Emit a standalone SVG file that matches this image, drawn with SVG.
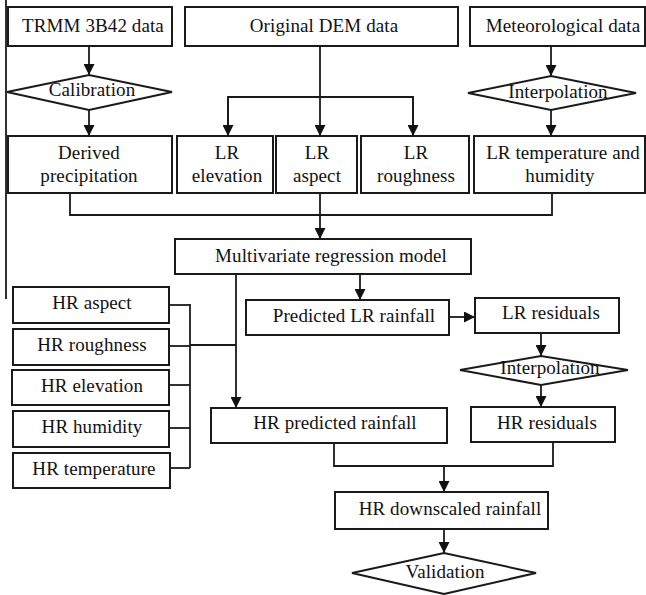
<svg xmlns="http://www.w3.org/2000/svg" width="646" height="595" viewBox="0 0 646 595">
<defs>
<marker id="ah" markerUnits="userSpaceOnUse" markerWidth="11" markerHeight="11" refX="11" refY="5.5" orient="auto">
<path d="M0,0 L11,5.5 L0,11 z" fill="#111"/>
</marker>
<style>
.b{fill:#fff;stroke:#1a1a1a;stroke-width:2}
.d{fill:#fff;stroke:#1a1a1a;stroke-width:2}
.c{fill:none;stroke:#1a1a1a;stroke-width:1.8}
.a{fill:none;stroke:#1a1a1a;stroke-width:1.8;marker-end:url(#ah)}
text{font-family:"Liberation Serif","Times New Roman",serif;font-size:19px;letter-spacing:0.1px;fill:#111;text-anchor:middle}
</style>
</defs>
<rect width="646" height="595" fill="#fff"/>
<line x1="6" y1="0" x2="6" y2="299" class="c"/>
<g id="connectors">
<line x1="89" y1="46" x2="89" y2="75" class="a"/>
<line x1="89" y1="110" x2="89" y2="136" class="a"/>
<line x1="320" y1="46" x2="320" y2="136" class="a"/>
<polyline points="228,136 228,97 413,97 413,136" class="c"/>
<line x1="228" y1="97" x2="228" y2="136" class="a"/>
<line x1="413" y1="97" x2="413" y2="136" class="a"/>
<line x1="551" y1="46" x2="551" y2="76" class="a"/>
<line x1="551" y1="110" x2="551" y2="136" class="a"/>
<polyline points="70,193 70,215 552,215 552,193" class="c"/>
<line x1="320" y1="193" x2="320" y2="239" class="a"/>
<line x1="360" y1="274" x2="360" y2="300" class="a"/>
<line x1="449" y1="317" x2="475" y2="317" class="a"/>
<line x1="541" y1="333" x2="541" y2="356" class="a"/>
<line x1="541" y1="385" x2="541" y2="407" class="a"/>
<line x1="236" y1="274" x2="236" y2="408" class="a"/>
<line x1="190" y1="345" x2="236" y2="345" class="c"/>
<line x1="190" y1="304" x2="190" y2="468" class="c"/>
<line x1="169" y1="305" x2="190" y2="305" class="c"/>
<line x1="169" y1="346" x2="190" y2="346" class="c"/>
<line x1="169" y1="385" x2="190" y2="385" class="c"/>
<line x1="169" y1="428" x2="190" y2="428" class="c"/>
<line x1="170" y1="468" x2="190" y2="468" class="c"/>
<polyline points="334,443 334,466 553,466 553,442" class="c"/>
<line x1="444" y1="466" x2="444" y2="492" class="a"/>
<line x1="444" y1="529" x2="444" y2="553" class="a"/>
</g>
<g id="trmm"><rect x="8" y="7" width="164" height="39" class="b"/><text x="93" y="32">TRMM 3B42 data</text></g>
<g id="dem"><rect x="185" y="7" width="273" height="39" class="b"/><text x="324" y="32">Original DEM data</text></g>
<g id="meteo"><rect x="470" y="7" width="175" height="39" class="b"/><text x="563" y="32">Meteorological data</text></g>
<g id="calibration"><polygon points="7,92 89,75 172,92 89,110" class="d"/><text x="92" y="96">Calibration</text></g>
<g id="interp1"><polygon points="468,93 551,76 636,93 551,110" class="d"/><text x="558" y="98">Interpolation</text></g>
<g id="derived"><rect x="8" y="136" width="164" height="57" class="b"/><text x="89" y="159">Derived</text><text x="89" y="182">precipitation</text></g>
<g id="lrelev"><rect x="177" y="136" width="96" height="57" class="b"/><text x="227" y="159">LR</text><text x="227" y="182">elevation</text></g>
<g id="lraspect"><rect x="276" y="136" width="81" height="57" class="b"/><text x="317" y="159">LR</text><text x="317" y="182">aspect</text></g>
<g id="lrrough"><rect x="361" y="136" width="108" height="57" class="b"/><text x="416" y="159">LR</text><text x="416" y="182">roughness</text></g>
<g id="lrtemp"><rect x="474" y="136" width="171" height="57" class="b"/><text x="563" y="159">LR temperature and</text><text x="560" y="182">humidity</text></g>
<g id="mvr"><rect x="175" y="239" width="296" height="35" class="b"/><text x="331" y="262">Multivariate regression model</text></g>
<g id="predlr"><rect x="246" y="300" width="203" height="35" class="b"/><text x="354" y="322">Predicted LR rainfall</text></g>
<g id="lrres"><rect x="475" y="298" width="144" height="35" class="b"/><text x="551" y="319">LR residuals</text></g>
<g id="interp2"><polygon points="460,370 541,356 628,370 541,385" class="d"/><text x="550" y="374">Interpolation</text></g>
<g id="hraspect"><rect x="13" y="287" width="156" height="36" class="b"/><text x="92" y="309">HR aspect</text></g>
<g id="hrrough"><rect x="13" y="329" width="156" height="36" class="b"/><text x="92" y="351">HR roughness</text></g>
<g id="hrelev"><rect x="12" y="370" width="157" height="35" class="b"/><text x="92" y="392">HR elevation</text></g>
<g id="hrhum"><rect x="13" y="411" width="156" height="36" class="b"/><text x="92" y="433">HR humidity</text></g>
<g id="hrtemp"><rect x="13" y="453" width="157" height="35" class="b"/><text x="94" y="475">HR temperature</text></g>
<g id="hrpred"><rect x="211" y="408" width="236" height="35" class="b"/><text x="335" y="429">HR predicted rainfall</text></g>
<g id="hrres"><rect x="471" y="407" width="144" height="35" class="b"/><text x="547" y="429">HR residuals</text></g>
<g id="hrdown"><rect x="335" y="492" width="213" height="37" class="b"/><text x="450" y="515">HR downscaled rainfall</text></g>
<g id="validation"><polygon points="352,573 444,553 536,573 444,594" class="d"/><text x="445" y="578">Validation</text></g>
</svg>
